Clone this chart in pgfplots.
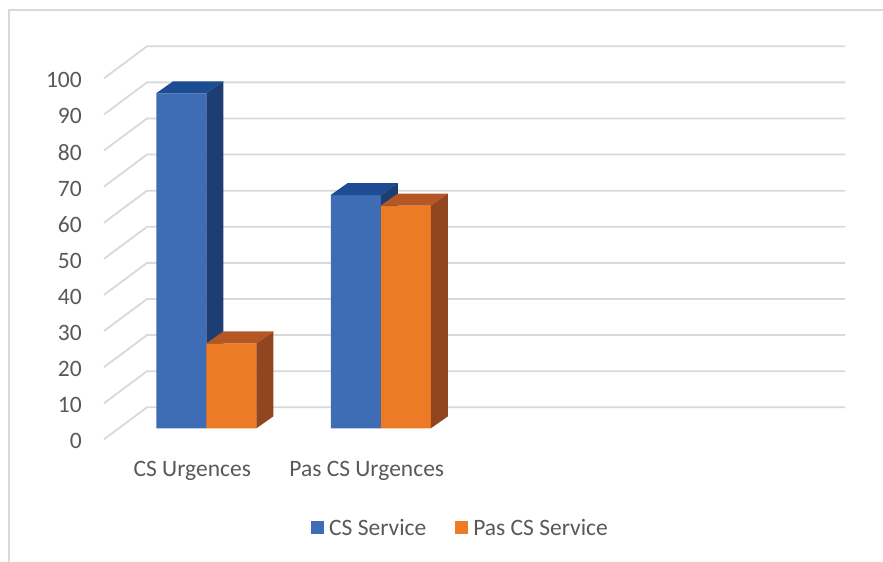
\documentclass[border=0pt]{standalone}
\usepackage{pgfplots}
\pgfplotsset{compat=1.18}
\usepackage{pgfplotstable}
\usepackage{fontspec}
\setmainfont{Carlito}
\definecolor{txt}{HTML}{595959}
\definecolor{gridc}{HTML}{D9D9D9}
\definecolor{blueF}{HTML}{3E6DB5}
\definecolor{blueT}{HTML}{1C4D92}
\definecolor{blueS}{HTML}{1D3D73}
\definecolor{oraF}{HTML}{ED7A24}
\definecolor{oraT}{HTML}{B45725}
\definecolor{oraS}{HTML}{92461F}

\pgfplotstableread{
x y
1 92.8
2 64.6
}\csservice
\pgfplotstableread{
x y
1 23.5
2 61.7
}\pascsservice

% top and side faces of a bar: #1 left x, #2 value, #3 top colour, #4 side colour
\newcommand{\barfaces}[4]{%
\addplot[fill=#3, draw=none, forget plot] table[row sep=\\,
  x expr={#1+\thisrow{a}*0.28736+\thisrow{c}*0.0977},
  y expr={\thisrow{b}*#2+\thisrow{c}*3.324}]
  {a b c\\ 0 1 0\\ 0 1 1\\ 1 1 1\\ 1 1 0\\};
\addplot[fill=#4, draw=none, forget plot] table[row sep=\\,
  x expr={#1+\thisrow{a}*0.28736+\thisrow{c}*0.0977},
  y expr={\thisrow{b}*#2+\thisrow{c}*3.324}]
  {a b c\\ 1 0 0\\ 1 0 1\\ 1 1 1\\ 1 1 0\\};
}

\begin{document}
\begin{tikzpicture}
\useasboundingbox (0,0) rectangle (883bp,562bp);
\fill[white] (0,0) rectangle (883bp,562bp);
\draw[gridc, line width=1.5bp] (9bp,-2bp) -- (9bp,552bp) -- (885bp,552bp);
\begin{axis}[
  at={(119bp,133.7bp)}, anchor=south west,
  scale only axis, width=698bp, height=361bp,
  xmin=0.5, xmax=4.5, ymin=0, ymax=100,
  clip=false,
  axis line style={draw=none},
  major tick length=0pt,
  xtick={1,2}, xticklabels={CS Urgences, Pas CS Urgences},
  ytick={0,10,...,100},
  /pgf/number format/assume math mode=true,
  tick label style={font=\fontsize{23.5bp}{27bp}\selectfont, text=txt},
  yticklabel style={anchor=east, inner sep=0pt, xshift=-37bp, yshift=-13bp},
  xticklabel style={anchor=center, inner sep=0pt, xshift=-14bp, yshift=-43bp},
  legend columns=2,
  legend style={at={(axis description cs:0.4900,-0.276)}, anchor=center,
    draw=none, fill=none, font=\fontsize{23.5bp}{27bp}\selectfont, text=txt,
    nodes={inner sep=3bp},
    /tikz/every odd column/.append style={column sep=2bp},
    /tikz/every even column/.append style={column sep=26bp},
    inner sep=0pt},
  legend image code/.code={\fill[#1] (0bp,-6.5bp) rectangle (13bp,6.5bp);},
]
\pgfplotsinvokeforeach{0,10,...,100}{
  \draw[gridc, line width=1.8bp] (axis cs:0.5,#1) ++(-15bp,-11bp) -- ++(43bp,32bp) -- ++(698bp,0pt);
}
\addplot[ybar, bar width=50bp, bar shift=-25bp, fill=blueF, draw=none] table[x=x,y=y] {\csservice};
\addlegendentry{CS Service}
\barfaces{0.71264}{92.8}{blueT}{blueS}
\barfaces{1.71264}{64.6}{blueT}{blueS}
\addplot[ybar, bar width=50bp, bar shift=25bp, fill=oraF, draw=none] table[x=x,y=y] {\pascsservice};
\addlegendentry{Pas CS Service}
\barfaces{1}{23.5}{oraT}{oraS}
\barfaces{2}{61.7}{oraT}{oraS}
\end{axis}
\end{tikzpicture}
\end{document}
